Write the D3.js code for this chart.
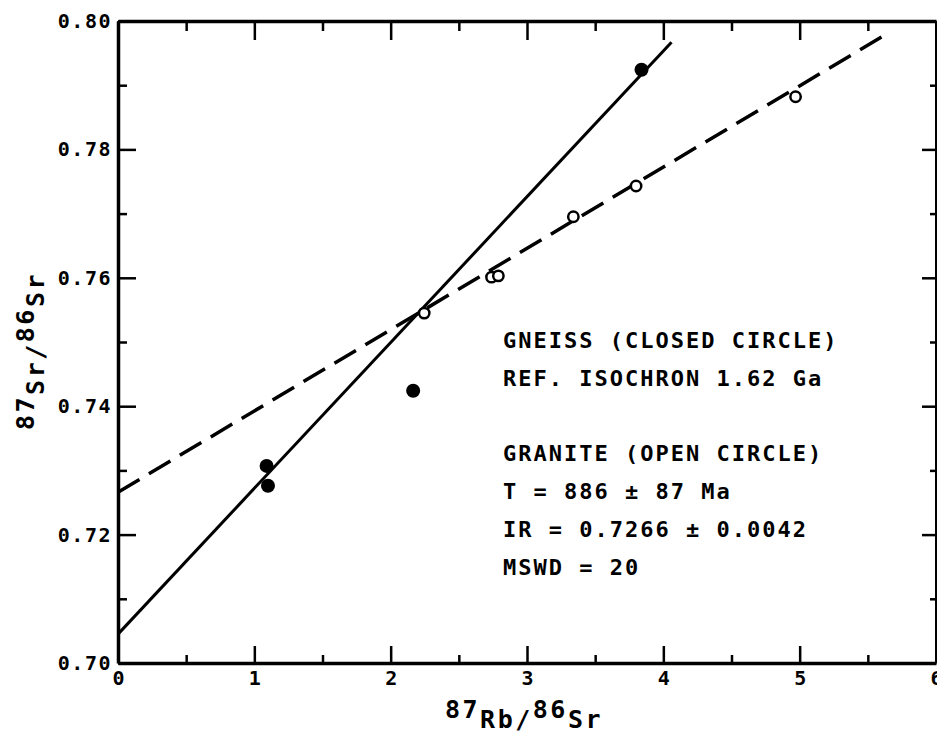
<!DOCTYPE html>
<html>
<head>
<meta charset="utf-8">
<script src="https://cdn.jsdelivr.net/npm/d3@7"></script>
<style>
  html, body { margin: 0; padding: 0; background: #fff; }
  svg { display: block; }
  text { font-family: "DejaVu Sans Mono", monospace; font-weight: bold; fill: #000; }
</style>
</head>
<body>
<svg id="chart" width="937" height="736"></svg>
<script>
// 87Rb/86Sr isochron diagram: gneiss (closed) and granite (open) samples
const xMajorTicks = [0, 1, 2, 3, 4, 5, 6];
const xMinorTicks = [0.5, 1.5, 2.5, 3.5, 4.5, 5.5];
const yMajorTicks = [0.70, 0.72, 0.74, 0.76, 0.78, 0.80];
const yMinorTicks = [0.71, 0.73, 0.75, 0.77, 0.79];

const gneissRbSr = [1.09, 1.10, 2.165, 3.84];
const gneissSrSr = [0.7307, 0.7276, 0.7424, 0.7924];

const graniteRbSr = [2.246, 2.74, 2.79, 3.34, 3.80, 4.97];
const graniteSrSr = [0.7545, 0.7601, 0.7603, 0.7695, 0.7743, 0.7882];

// reference isochron (1.62 Ga) and the granite regression line, as end points
const refIsochron = [[0, 0.7045], [4.06, 0.7967]];
const graniteIsochron = [[0, 0.7266], [5.6, 0.7975]];

const annotation = [
  "GNEISS (CLOSED CIRCLE)",
  "REF. ISOCHRON 1.62 Ga",
  "",
  "GRANITE (OPEN CIRCLE)",
  "T = 886 ± 87 Ma",
  "IR = 0.7266 ± 0.0042",
  "MSWD = 20"
];

const svg = d3.select("#chart");
const plotLeft = 118, plotRight = 936, plotTop = 21, plotBottom = 663;

const x = d3.scaleLinear().domain([0, 6]).range([plotLeft, plotRight]);
const y = d3.scaleLinear().domain([0.70, 0.80]).range([plotBottom, plotTop]);

function styleAxis(g, width) {
  g.selectAll("path.domain").attr("stroke", "#000").attr("stroke-width", width);
  g.selectAll(".tick line").attr("stroke", "#000").attr("stroke-width", 2.5);
}

// bottom axis
const gB = svg.append("g").attr("transform", `translate(0,${plotBottom})`)
  .call(d3.axisBottom(x).tickValues(xMajorTicks).tickFormat(d3.format("d"))
    .tickSizeInner(-17).tickSizeOuter(0).tickPadding(8));
styleAxis(gB, 3.5);
gB.selectAll(".tick text").attr("font-size", 20).attr("font-family", "DejaVu Sans Mono")
  .attr("font-weight", "bold").attr("fill", "#000");
const gBm = svg.append("g").attr("transform", `translate(0,${plotBottom})`)
  .call(d3.axisBottom(x).tickValues(xMinorTicks).tickFormat("").tickSizeInner(-8).tickSizeOuter(0));
gBm.select("path.domain").remove();
styleAxis(gBm, 0);

// top axis (ticks only)
const gT = svg.append("g").attr("transform", `translate(0,${plotTop})`)
  .call(d3.axisTop(x).tickValues(xMajorTicks).tickFormat("").tickSizeInner(-19).tickSizeOuter(0));
styleAxis(gT, 3.5);
const gTm = svg.append("g").attr("transform", `translate(0,${plotTop})`)
  .call(d3.axisTop(x).tickValues(xMinorTicks).tickFormat("").tickSizeInner(-10).tickSizeOuter(0));
gTm.select("path.domain").remove();
styleAxis(gTm, 0);

// left axis
const gL = svg.append("g").attr("transform", `translate(${plotLeft},0)`)
  .call(d3.axisLeft(y).tickValues(yMajorTicks).tickFormat(d3.format(".2f"))
    .tickSizeInner(-18).tickSizeOuter(0).tickPadding(6));
styleAxis(gL, 3.5);
gL.selectAll(".tick text").attr("font-size", 20).attr("font-family", "DejaVu Sans Mono")
  .attr("font-weight", "bold").attr("fill", "#000").attr("letter-spacing", 1.5);
const gLm = svg.append("g").attr("transform", `translate(${plotLeft},0)`)
  .call(d3.axisLeft(y).tickValues(yMinorTicks).tickFormat("").tickSizeInner(-9).tickSizeOuter(0));
gLm.select("path.domain").remove();
styleAxis(gLm, 0);

// right axis
const gR = svg.append("g").attr("transform", `translate(${plotRight},0)`)
  .call(d3.axisRight(y).tickValues(yMajorTicks).tickFormat("").tickSizeInner(-14).tickSizeOuter(0));
styleAxis(gR, 3);
const gRm = svg.append("g").attr("transform", `translate(${plotRight},0)`)
  .call(d3.axisRight(y).tickValues(yMinorTicks).tickFormat("").tickSizeInner(-6).tickSizeOuter(0));
gRm.select("path.domain").remove();
styleAxis(gRm, 0);

// isochron lines
const line = d3.line().x(d => x(d[0])).y(d => y(d[1]));
svg.append("path").datum(refIsochron).attr("d", line)
  .attr("fill", "none").attr("stroke", "#000").attr("stroke-width", 3);
svg.append("path").datum(graniteIsochron).attr("d", line)
  .attr("fill", "none").attr("stroke", "#000").attr("stroke-width", 3.5)
  .attr("stroke-dasharray", "25 11");

// granite samples (open circles)
svg.append("g").selectAll("circle").data(graniteRbSr).join("circle")
  .attr("cx", d => x(d)).attr("cy", (d, i) => y(graniteSrSr[i]))
  .attr("r", 5.2).attr("fill", "#fff").attr("stroke", "#000").attr("stroke-width", 2.5);

// gneiss samples (closed circles)
svg.append("g").selectAll("circle").data(gneissRbSr).join("circle")
  .attr("cx", d => x(d)).attr("cy", (d, i) => y(gneissSrSr[i]))
  .attr("r", 7).attr("fill", "#000");

// annotation block
const note = svg.append("g");
annotation.forEach((t, i) => {
  note.append("text").attr("x", 503).attr("y", 348 + i * 37.8)
    .attr("font-size", 22).attr("letter-spacing", 2).text(t);
});

// axis titles
const xt = svg.append("text").attr("x", 445).attr("y", 728)
  .attr("font-size", 25).attr("font-weight", "normal").attr("letter-spacing", 2.5);
xt.append("tspan").attr("dy", -10).text("87");
xt.append("tspan").attr("dy", 10).text("Rb");
xt.append("tspan").text("/");
xt.append("tspan").attr("dy", -10).text("86");
xt.append("tspan").attr("dy", 10).text("Sr");

const yt = svg.append("text").attr("transform", "translate(44,430) rotate(-90)")
  .attr("font-size", 25).attr("font-weight", "normal").attr("letter-spacing", 2.5);
yt.append("tspan").attr("dy", -10).text("87");
yt.append("tspan").attr("dy", 10).text("Sr");
yt.append("tspan").text("/");
yt.append("tspan").attr("dy", -10).text("86");
yt.append("tspan").attr("dy", 10).text("Sr");
</script>
</body>
</html>
